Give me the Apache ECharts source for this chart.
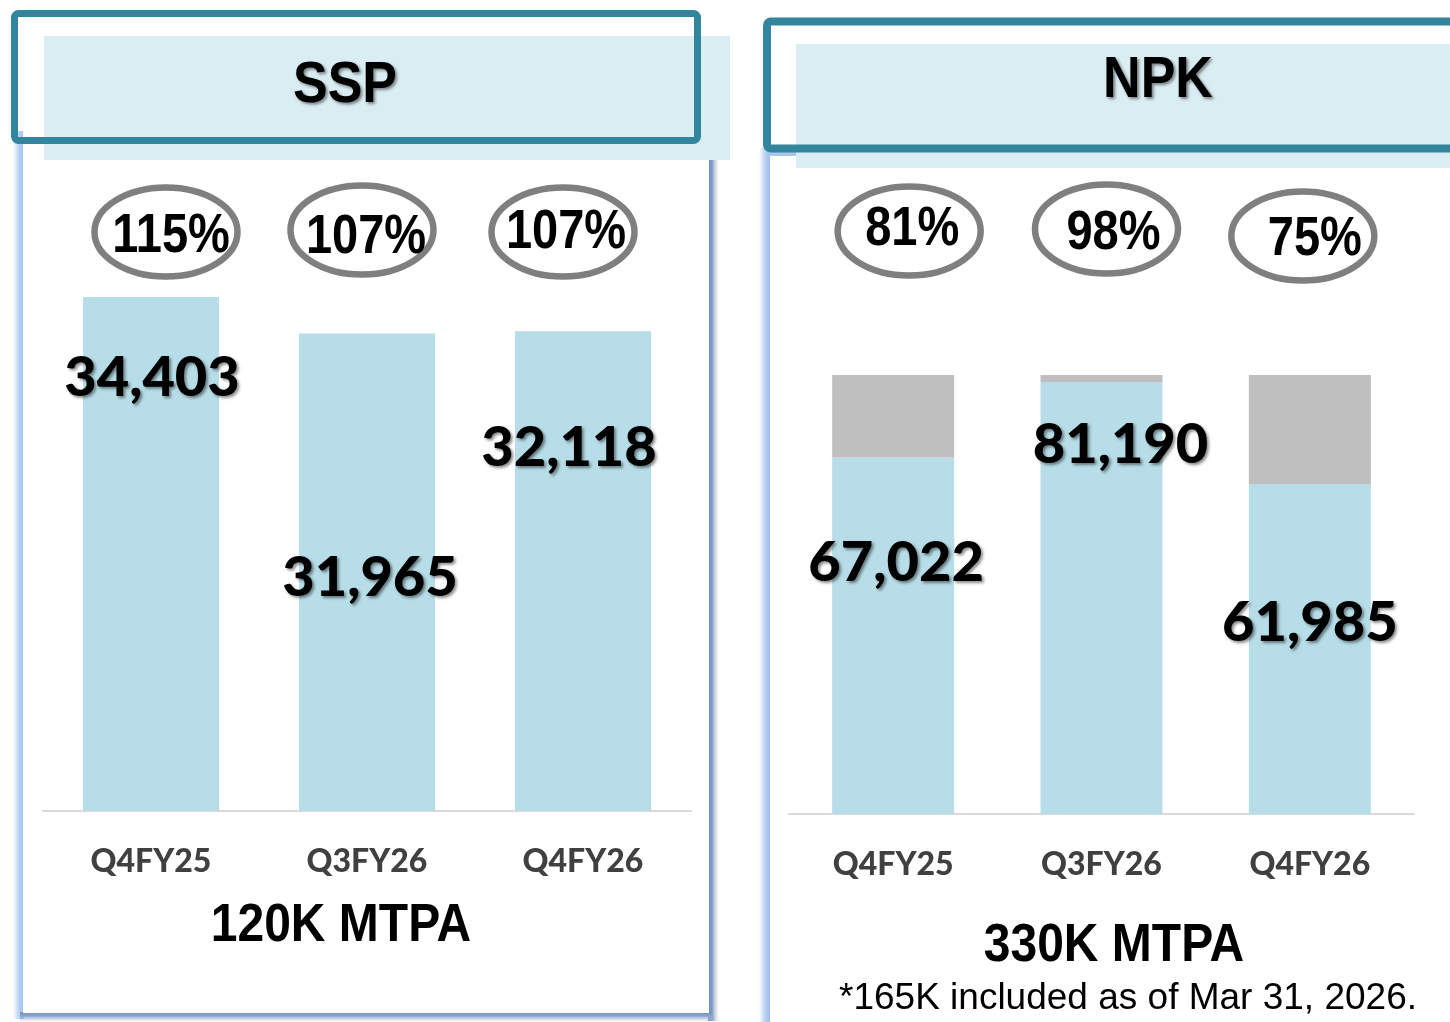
<!DOCTYPE html>
<html><head><meta charset="utf-8">
<script src="https://cdn.jsdelivr.net/npm/echarts@6/dist/echarts.min.js"></script>
<style>html,body{margin:0;padding:0;background:#fff}#c{width:1450px;height:1022px}</style>
</head><body><div id="c"></div>
<script>
// ---------------- data ----------------
const categories = ['Q4FY25', 'Q3FY26', 'Q4FY26'];
const sspProduction = [34403, 31965, 32118];
const sspUtilization = [115, 107, 107];
const npkProduction = [67022, 81190, 61985];
const npkUnused = [15478, 1310, 20515];
const npkUtilization = [81, 98, 75];
const panelTitles = ['SSP', 'NPK'];
const capacityLabels = ['120K MTPA', '330K MTPA'];
const footnote = '*165K included as of Mar 31, 2026.';

// ---------------- layout (positions only) ----------------
const sspLabelPos = [[1, 378], [3, 578], [-14, 448]];      // [dx from category centre, y centre]
const npkLabelPos = [[3, 563], [19, 445], [0, 623]];
const sspEllipsePos = [[15, 232], [-5, 230], [-20, 232]];
const npkEllipsePos = [[16, 231], [5, 229], [-7, 236]];
const sspPctShift = [[5, 4], [4, 7], [3, 0]];
const npkPctShift = [[3, -2], [7, 4], [12, 3]];

const ARIAL = '"Liberation Sans", Arial, Helvetica, sans-serif';
const LATO = 'Lato, "Open Sans", sans-serif';
const BAR_BLUE = '#b7dde8';
const GREY = '#bfbfbf';
const TEAL = '#31859c';
const BAND = '#daedf3';

const chart = echarts.init(document.getElementById('c'), null, {renderer: 'canvas'});

const axisLabelStyle = {fontFamily: LATO, fontWeight: 900, fontSize: 32, color: '#404040'};

const baseOption = {
  animation: false,
  backgroundColor: '#ffffff',
  grid: [
    {left: 43, width: 648, top: 213.4, height: 597.6},
    {left: 789, width: 625, top: 281.9, height: 532.1}
  ],
  xAxis: [
    {gridIndex: 0, type: 'category', data: categories,
     axisLine: {lineStyle: {color: '#d9d9d9', width: 2}}, axisTick: {show: false},
     axisLabel: Object.assign({margin: 35}, axisLabelStyle), z: 1},
    {gridIndex: 1, type: 'category', data: categories,
     axisLine: {lineStyle: {color: '#d9d9d9', width: 2}}, axisTick: {show: false},
     axisLabel: Object.assign({margin: 35}, axisLabelStyle), z: 1}
  ],
  yAxis: [
    {gridIndex: 0, type: 'value', min: 0, max: 40000, show: false},
    {gridIndex: 1, type: 'value', min: 0, max: 100000, show: false}
  ],
  series: [
    {name: 'SSP', type: 'bar', xAxisIndex: 0, yAxisIndex: 0, data: sspProduction,
     barWidth: 136, itemStyle: {color: BAR_BLUE}, z: 3},
    {name: 'NPK production', type: 'bar', xAxisIndex: 1, yAxisIndex: 1, stack: 'npk',
     data: npkProduction, barWidth: 122, itemStyle: {color: BAR_BLUE}, z: 3},
    {name: 'NPK unused', type: 'bar', xAxisIndex: 1, yAxisIndex: 1, stack: 'npk',
     data: npkUnused, barWidth: 122, itemStyle: {color: GREY}, z: 3}
  ]
};
chart.setOption(baseOption);

const fmt = v => v.toLocaleString('en-US');
const valueLabel = {
  show: true, fontFamily: LATO, fontWeight: 900, fontSize: 56, color: '#000',
  align: 'center', verticalAlign: 'middle',
  textShadowColor: 'rgba(0,0,0,0.45)', textShadowBlur: 3, textShadowOffsetX: 2, textShadowOffsetY: 2,
  formatter: p => fmt(p.value)
};

function labelled(values, yAxisIndex, barWidth, pos) {
  return values.map((v, i) => {
    const top = chart.convertToPixel({yAxisIndex: yAxisIndex}, v);
    return {value: v, label: Object.assign({}, valueLabel, {position: [barWidth / 2 + pos[i][0], pos[i][1] - top]})};
  });
}

function txt(text, x, y, font, opts) {
  opts = opts || {};
  return {
    type: 'text', x: x, y: y, scaleX: opts.sx || 1, scaleY: opts.sy || 1, z: opts.z || 10,
    style: Object.assign({
      text: text, x: 0, y: 0, font: font, fill: opts.fill || '#000',
      align: 'center', verticalAlign: 'middle', textAlign: 'center', textVerticalAlign: 'middle'
    }, opts.shadow ? {shadowColor: 'rgba(0,0,0,0.45)', shadowBlur: 3, shadowOffsetX: 2, shadowOffsetY: 2,
                      textShadowColor: 'rgba(0,0,0,0.45)', textShadowBlur: 3, textShadowOffsetX: 2, textShadowOffsetY: 2} : {})
  };
}

const g = [];
// ---- SSP card ----
g.push({type: 'rect', shape: {x: 13, y: 131, width: 11, height: 888}, z: 0,
  style: {fill: new echarts.graphic.LinearGradient(0, 0, 1, 0, [
    {offset: 0, color: 'rgba(160,194,238,0)'}, {offset: 0.55, color: 'rgba(160,194,238,0.75)'}, {offset: 1, color: '#9dbfec'}])}});
g.push({type: 'rect', shape: {x: 708, y: 131, width: 11, height: 890}, z: 0,
  style: {fill: new echarts.graphic.LinearGradient(0, 0, 1, 0, [
    {offset: 0, color: '#6c8ec2'}, {offset: 0.35, color: '#7e9bc8'}, {offset: 1, color: 'rgba(200,200,200,0)'}])}});
g.push({type: 'rect', shape: {x: 20, y: 1012, width: 692, height: 10}, z: 0,
  style: {fill: new echarts.graphic.LinearGradient(0, 0, 0, 1, [
    {offset: 0, color: '#6f90c2'}, {offset: 0.4, color: '#8aa5cf'}, {offset: 1, color: 'rgba(200,200,200,0)'}])}});
g.push({type: 'rect', shape: {x: 23, y: 131, width: 686, height: 882}, z: 1, style: {fill: '#ffffff'}});
// ---- NPK card ----
g.push({type: 'rect', shape: {x: 759, y: 148, width: 11, height: 874}, z: 0,
  style: {fill: new echarts.graphic.LinearGradient(0, 0, 1, 0, [
    {offset: 0, color: 'rgba(160,194,238,0)'}, {offset: 0.55, color: 'rgba(160,194,238,0.75)'}, {offset: 1, color: '#9dbfec'}])}});
g.push({type: 'rect', shape: {x: 770, y: 148, width: 690, height: 874}, z: 1, style: {fill: '#ffffff'}});
g.push({type: 'rect', shape: {x: 768, y: 150, width: 40, height: 6}, z: 1, style: {fill: '#a9c6ef'}});
// ---- title bands ----
g.push({type: 'rect', shape: {x: 44, y: 36, width: 686, height: 124}, z: 2, style: {fill: BAND}});
g.push({type: 'rect', shape: {x: 796, y: 44, width: 660, height: 124}, z: 2, style: {fill: BAND}});
g.push({type: 'rect', shape: {x: 14.5, y: 13.5, width: 683, height: 127, r: 4}, z: 3,
  style: {fill: 'none', stroke: TEAL, lineWidth: 7}});
g.push({type: 'rect', shape: {x: 767, y: 21.5, width: 690, height: 127, r: 4}, z: 3,
  style: {fill: 'none', stroke: TEAL, lineWidth: 8}});
g.push(txt(panelTitles[0], 345, 86, 'bold 52px ' + ARIAL, {sy: 1.12, shadow: true}));
g.push(txt(panelTitles[1], 1158, 81, 'bold 52px ' + ARIAL, {sy: 1.12, shadow: true}));

// ---- utilisation ellipses ----
function ellipses(util, xAxisIndex, pos, shift) {
  util.forEach((u, i) => {
    const cx = chart.convertToPixel({xAxisIndex: xAxisIndex}, categories[i]) + pos[i][0];
    const cy = pos[i][1];
    g.push({type: 'ellipse', shape: {cx: cx, cy: cy, rx: 71.5, ry: 44.5}, z: 5,
      style: {fill: '#ffffff', stroke: '#7f7f7f', lineWidth: 6.5}});
    g.push(txt(u + '%', cx + shift[i][0], cy + shift[i][1], 'bold 47px ' + ARIAL, {sy: 1.2, z: 6}));
  });
}
ellipses(sspUtilization, 0, sspEllipsePos, sspPctShift);
ellipses(npkUtilization, 1, npkEllipsePos, npkPctShift);

// ---- capacity & footnote ----
g.push(txt(capacityLabels[0], 341, 926, 'bold 48px ' + ARIAL, {sy: 1.1}));
g.push(txt(capacityLabels[1], 1114, 946, 'bold 48px ' + ARIAL, {sy: 1.1}));
g.push(txt(footnote, 1128, 999, '37px ' + ARIAL, {sy: 1.02}));

chart.setOption({
  series: [
    {data: labelled(sspProduction, 0, 136, sspLabelPos)},
    {data: labelled(npkProduction, 1, 122, npkLabelPos)},
    {}
  ],
  graphic: {elements: g}
});
</script>
</body></html>
